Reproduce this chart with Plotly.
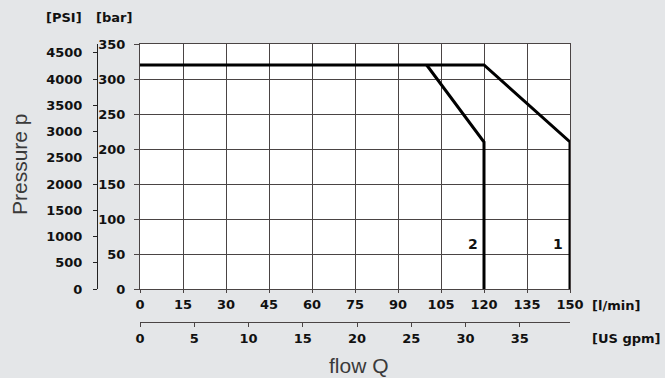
import plotly.graph_objects as go

# Flow axis ticks (l/min) and secondary flow scale (US gpm)
flow_lpm_ticks = [0, 15, 30, 45, 60, 75, 90, 105, 120, 135, 150]
flow_gpm_ticks = [0, 5, 10, 15, 20, 25, 30, 35]
LPM_PER_GPM = 3.785411784

# Pressure scales
pressure_bar_ticks = [0, 50, 100, 150, 200, 250, 300, 350]
pressure_psi_ticks = [0, 500, 1000, 1500, 2000, 2500, 3000, 3500, 4000, 4500]
psi_axis_top = 4670

# Characteristic curves: flow (l/min) vs pressure (bar)
curve1_flow = [0, 120, 150, 150]
curve1_pressure = [320, 320, 210, 0]
curve2_flow = [100, 120, 120]
curve2_pressure = [320, 210, 0]

GRID = "#4a4444"
TXT = "#111111"
BOLD = dict(family="DejaVu Sans, Verdana, sans-serif", size=13, color=TXT, weight="bold")
PLAIN = dict(family="Liberation Sans, Arial, sans-serif", size=21, color="#3a3a3a")

W, H = 665, 378
ML, MR, MT, MB = 40, 95, 44, 40
PW, PH = W - ML - MR, H - MT - MB
x0 = (140 - ML) / PW
y0 = 1 - (289 - MT) / PH

fig = go.Figure()
fig.add_trace(go.Scatter(x=curve1_flow, y=curve1_pressure, mode="lines",
                         line=dict(color="#000000", width=3), showlegend=False,
                         hoverinfo="skip"))
fig.add_trace(go.Scatter(x=curve2_flow, y=curve2_pressure, mode="lines",
                         line=dict(color="#000000", width=3), showlegend=False,
                         hoverinfo="skip"))
# anchors so the secondary axes are drawn
fig.add_trace(go.Scatter(x=[0], y=[0], xaxis="x2", yaxis="y", mode="markers",
                         marker=dict(opacity=0), showlegend=False, hoverinfo="skip"))
fig.add_trace(go.Scatter(x=[0], y=[0], xaxis="x", yaxis="y2", mode="markers",
                         marker=dict(opacity=0), showlegend=False, hoverinfo="skip"))

fig.update_layout(
    width=W, height=H,
    margin=dict(l=ML, r=MR, t=MT, b=MB),
    paper_bgcolor="#e4e6e8",
    plot_bgcolor="#ffffff",
    showlegend=False,
    xaxis=dict(domain=[x0, 1], range=[0, 150], tickvals=flow_lpm_ticks,
               showgrid=True, gridcolor=GRID, gridwidth=1, zeroline=False,
               showline=True, linecolor=GRID, linewidth=1, mirror=True,
               ticks="outside", ticklen=3, tickcolor=GRID, tickfont=BOLD,
               anchor="y"),
    xaxis2=dict(overlaying="x", anchor="free", position=16 / PH, side="bottom",
                range=[0, 150 / LPM_PER_GPM], tickvals=flow_gpm_ticks,
                showgrid=False, zeroline=False, showline=True, linecolor=GRID,
                linewidth=1, ticks="outside", ticklen=4, tickcolor=GRID,
                tickfont=BOLD),
    yaxis=dict(domain=[y0, 1], range=[0, 350], tickvals=pressure_bar_ticks,
               showgrid=True, gridcolor=GRID, gridwidth=1, zeroline=False,
               showline=True, linecolor=GRID, linewidth=1, mirror=True,
               ticks="outside", ticklen=5, tickcolor=GRID, tickfont=BOLD,
               ticklabelstandoff=6, anchor="x"),
    yaxis2=dict(overlaying="y", anchor="free", position=(97 - ML) / PW, side="left",
                range=[0, psi_axis_top], tickvals=pressure_psi_ticks,
                showgrid=False, zeroline=False, showline=True, linecolor="#222222",
                linewidth=1, ticks="outside", ticklen=4, tickcolor="#222222",
                tickfont=BOLD, ticklabelstandoff=8),
)

def px_x(px):
    return (px - ML) / PW

def px_y(py):
    return 1 - (py - MT) / PH

ann = [
    dict(text="[PSI]", x=px_x(44), y=px_y(17), xanchor="left", yanchor="middle", font=BOLD),
    dict(text="[bar]", x=px_x(94), y=px_y(17), xanchor="left", yanchor="middle", font=BOLD),
    dict(text="[l/min]", x=px_x(590), y=px_y(305), xanchor="left", yanchor="middle", font=BOLD),
    dict(text="[US gpm]", x=px_x(590), y=px_y(338), xanchor="left", yanchor="middle", font=BOLD),
    dict(text="flow Q", x=px_x(359), y=px_y(365), xanchor="center", yanchor="middle", font=PLAIN),
    dict(text="Pressure p", x=px_x(19), y=px_y(164), xanchor="center", yanchor="middle",
         textangle=-90, font=PLAIN),
]
for a in ann:
    fig.add_annotation(xref="paper", yref="paper", showarrow=False, **a)

# curve numbers placed next to the vertical limits
fig.add_annotation(x=120, y=50, xref="x", yref="y", text="2", showarrow=False,
                   xanchor="right", yanchor="bottom", xshift=-4, font=dict(BOLD, size=14))
fig.add_annotation(x=150, y=50, xref="x", yref="y", text="1", showarrow=False,
                   xanchor="right", yanchor="bottom", xshift=-5, font=dict(BOLD, size=14))

fig.write_html("out.html")
